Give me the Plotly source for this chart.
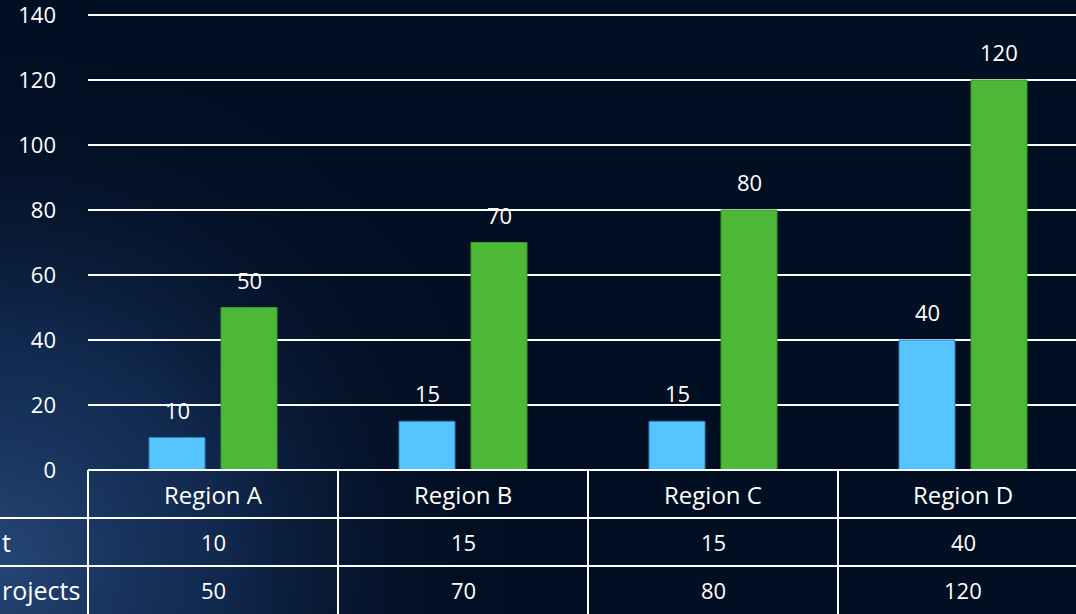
import base64
import plotly.graph_objects as go

categories = ["Region A", "Region B", "Region C", "Region D"]
row_labels = ["t", "rojects"]  # visible (cut-off) parts of the row labels
investment = [10, 15, 15, 40]
projects = [50, 70, 80, 120]
y_ticks = [0, 20, 40, 60, 80, 100, 120, 140]

BLUE = "#55C4FF"
GREEN = "#4DB838"
FONT = "Open Sans, Lato, sans-serif"
W, H = 1076, 614
L, B, T = 88, 144, 8
Y_MAX = 140 * (470 - T) / (470 - 15)  # so that 140 sits at y=15

svg = f'''<svg xmlns="http://www.w3.org/2000/svg" width="{W}" height="{H}">
<defs>
<radialGradient id="g" cx="0" cy="560" r="520" gradientUnits="userSpaceOnUse">
<stop offset="0" stop-color="#27497a" stop-opacity="0.95"/>
<stop offset="0.45" stop-color="#183866" stop-opacity="0.6"/>
<stop offset="1" stop-color="#020e22" stop-opacity="0"/>
</radialGradient>
</defs>
<rect width="{W}" height="{H}" fill="#020e22"/>
<rect width="{W}" height="{H}" fill="url(#g)"/>
</svg>'''
bg_uri = "data:image/svg+xml;base64," + base64.b64encode(svg.encode()).decode()

xs = list(range(len(categories)))
fig = go.Figure()
fig.add_trace(go.Bar(x=xs, y=investment, name="Investment", width=0.224, offset=-0.256,
                     marker=dict(color=BLUE, line=dict(color="#2f7fb8", width=1))))
fig.add_trace(go.Bar(x=xs, y=projects, name="Projects", width=0.224, offset=0.032,
                     marker=dict(color=GREEN, line=dict(color="#3d9a2c", width=1))))

annotations = []
for i, (a, b) in enumerate(zip(investment, projects)):
    annotations.append(dict(x=i - 0.144, y=a, xref="x", yref="y", text=str(a), showarrow=False,
                            yanchor="middle", yshift=28, font=dict(color="white", size=22, family=FONT)))
    annotations.append(dict(x=i + 0.144, y=b, xref="x", yref="y", text=str(b), showarrow=False,
                            yanchor="middle", yshift=28, font=dict(color="white", size=22, family=FONT)))

plot_w = W - L
plot_h = H - T - B
cat_w = 250.0


def px_x(px):
    return (px - L) / plot_w


def px_y(py):
    return (H - B - py) / plot_h


row_tops = [470, 518, 566, 614]
shapes = []
line = dict(color="white", width=2)
shapes.append(dict(type="line", xref="paper", yref="paper", x0=px_x(L), x1=px_x(W + 5),
                   y0=px_y(470), y1=px_y(470), line=line))
for yy in (518, 566):
    shapes.append(dict(type="line", xref="paper", yref="paper", x0=px_x(-5), x1=px_x(W + 5),
                       y0=px_y(yy), y1=px_y(yy), line=line))
for k in range(len(categories) + 1):
    xx = L + k * cat_w
    if xx <= W:
        shapes.append(dict(type="line", xref="paper", yref="paper", x0=px_x(xx), x1=px_x(xx),
                           y0=px_y(470), y1=px_y(H + 5), line=line))

rows = [categories, [str(v) for v in investment], [str(v) for v in projects]]
for r, row in enumerate(rows):
    yc = (row_tops[r] + row_tops[r + 1]) / 2
    for i, txt in enumerate(row):
        xc = L + (i + 0.5) * cat_w
        annotations.append(dict(x=px_x(xc), y=px_y(yc), xref="paper", yref="paper", text=txt,
                                showarrow=False, xanchor="center", yanchor="middle",
                                font=dict(color="white", size=24 if r == 0 else 22, family=FONT)))
for r, (name, end_px) in enumerate(zip(row_labels, [13, 82])):
    yc = (row_tops[r + 1] + row_tops[r + 2]) / 2
    annotations.append(dict(x=px_x(end_px), y=px_y(yc), xref="paper", yref="paper", text=name,
                            showarrow=False, xanchor="right", yanchor="middle",
                            font=dict(color="white", size=25, family=FONT)))

fig.update_layout(
    width=W, height=H,
    margin=dict(l=L, r=0, t=T, b=B, pad=0),
    paper_bgcolor="#020e22",
    plot_bgcolor="rgba(0,0,0,0)",
    showlegend=False,
    barmode="overlay",
    images=[dict(source=bg_uri, xref="paper", yref="paper", x=px_x(0), y=px_y(0),
                 sizex=W / plot_w, sizey=H / plot_h, xanchor="left", yanchor="top",
                 sizing="stretch", layer="below")],
    xaxis=dict(range=[-0.5, -0.5 + plot_w / cat_w], showticklabels=False, showgrid=False,
               zeroline=False, showline=False, fixedrange=True),
    yaxis=dict(range=[0, Y_MAX], tickvals=y_ticks, showgrid=True, gridcolor="white", gridwidth=2,
               zeroline=False, showline=False, ticks="", ticklabelstandoff=31,
               ticklabeloverflow="allow",
               tickfont=dict(color="white", size=22, family=FONT)),
    annotations=annotations,
    shapes=shapes,
)
fig.write_html("out.html")
